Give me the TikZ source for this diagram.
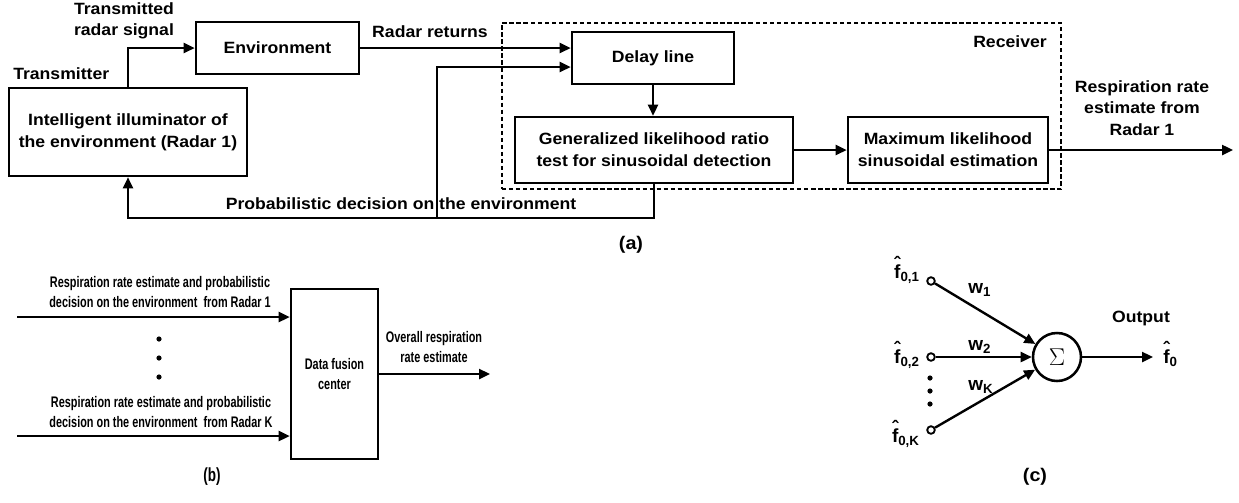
\documentclass[tikz,border=0pt]{standalone}
\usepackage{fontspec}
\setmainfont{Liberation Sans}
\newfontfamily\widesans[FakeStretch=1.08]{Liberation Sans}
\newfontfamily\narrowsans[FakeStretch=0.71]{Liberation Sans}
\usetikzlibrary{shapes,arrows,arrows.meta,positioning,calc,fit,backgrounds}
\newcommand{\fhat}{\ooalign{f\cr\hidewidth\raisebox{0.42em}{ˆ}\hidewidth\cr}}

\begin{document}
\begin{tikzpicture}[
    x=0.025cm, y=-0.025cm,
    box/.style={rectangle, draw, line width=1.8pt, align=center, inner sep=0pt, font=\widesans\bfseries\fontsize{11.6}{15.6}\selectfont},
    lbl/.style={align=center, inner sep=0pt, font=\widesans\bfseries\fontsize{11.6}{15}\selectfont},
    nlbl/.style={align=center, inner sep=0pt, font=\narrowsans\bfseries\fontsize{10.9}{14.2}\selectfont},
    sym/.style={inner sep=0pt, font=\bfseries\fontsize{13.5}{14}\selectfont},
    flow/.style={draw, line width=1.7pt, -{Triangle[length=0.275cm, width=0.25cm]}},
    port/.style={circle, draw, line width=1.3pt, inner sep=0pt, minimum size=0.19cm},
    dot/.style={circle, fill, inner sep=0pt, minimum size=0.13cm}
]
\useasboundingbox (0,0) rectangle (1239,502);

% (a) cognitive radar loop
\node[box, minimum width=5.95cm, minimum height=2.2cm] (illum) at (128,132) {Intelligent illuminator of\\the environment (Radar 1)};
\node[box, minimum width=4.075cm, minimum height=1.3cm] (env) at (277.5,48) {Environment};
\node[box, minimum width=4.05cm, minimum height=1.3cm] (delay) at (653,58) {Delay line};
\node[box, minimum width=6.95cm, minimum height=1.65cm] (glrt) at (654,150) {Generalized likelihood ratio\\test for sinusoidal detection};
\node[box, minimum width=5cm, minimum height=1.65cm] (mle) at (948,150) {Maximum likelihood\\sinusoidal estimation};
\node[draw, line width=1.6pt, dash pattern=on 3pt off 2pt, minimum width=13.975cm, minimum height=4.15cm] (rx) at (781.5,106) {};

\coordinate (fbjoin) at (437,217);
\coordinate (din) at ($(delay.west)+(0,9)$);
\coordinate (out1) at (1233,150);

\draw[flow] (illum.north) |- (env.west);
\draw[flow] (env.east) -- (env.east -| delay.west);
\draw[flow] (delay.south) -- (delay.south |- glrt.north);
\draw[flow] (glrt) -- (mle);
\draw[flow] (mle) -- (out1);
\draw[flow] (glrt.south) -- ++(0,34) -| (illum.south);
\draw[flow] (fbjoin) |- (din);

\node[lbl] (txsig) at (124,20.5) {Transmitted\\radar signal};
\node[lbl, anchor=west] (txlab) at (13,74) {Transmitter};
\node[lbl] (ret) at (430,32) {Radar returns};
\node[lbl, anchor=east] (rxlab) at (1047,42) {Receiver};
\node[lbl] (fblab) at (401,204) {Probabilistic decision on the environment};
\node[lbl, font=\widesans\bfseries\fontsize{11.6}{15.2}\selectfont] (estlab) at (1142,108) {Respiration rate\\estimate from\\Radar 1};
\node[lbl, font=\widesans\bfseries\fontsize{13}{14}\selectfont] (capa) at (631,245) {(a)};

% (b) data fusion
\node[draw, line width=1.8pt, minimum width=2.175cm, minimum height=4.25cm, align=center, nlbl] (fusion) at (334.5,374) {Data fusion\\center};
\coordinate (in1) at (17,317);
\coordinate (inK) at (17,436);
\coordinate (outb) at (490,374);
\draw[flow] (in1) -- (in1 -| fusion.west);
\draw[flow] (inK) -- (inK -| fusion.west);
\draw[flow] (fusion.east |- outb) -- (outb);

\node[nlbl] (r1lab) at (160,292) {Respiration rate estimate and probabilistic\\decision on the environment~ from Radar 1};
\node[nlbl] (rKlab) at (161,412) {Respiration rate estimate and probabilistic\\decision on the environment~ from Radar K};
\node[nlbl] (overall) at (434,347) {Overall respiration\\rate estimate};
\node[dot] (bd1) at (159,339) {};
\node[dot] (bd2) at (159,358) {};
\node[dot] (bd3) at (159,377) {};
\node[nlbl, font=\narrowsans\bfseries\fontsize{13.5}{14}\selectfont] (capb) at (212,477) {(b)};

% (c) weighted combiner
\node[circle, draw, line width=1.8pt, minimum size=1.2cm, inner sep=0pt, font=\fontsize{19}{19}\selectfont] (sum) at (1057,357) {$\Sigma$};
\node[port] (f1) at (931,281) {};
\node[port] (f2) at (931,357) {};
\node[port] (fK) at (931,430) {};
\coordinate (outc) at (1153,357);
\foreach \i in {1,2,K} {
    \draw[flow] (f\i) -- (sum);
}
\draw[flow] (sum) -- (outc);

\node[sym, anchor=base east] (f1lab) at (920,278) {\fhat\textsubscript{0,1}};
\node[sym, anchor=base east] (f2lab) at (920,363) {\fhat\textsubscript{0,2}};
\node[sym, anchor=base east] (fKlab) at (920,442) {\fhat\textsubscript{0,K}};
\node[sym, anchor=base west] (f0lab) at (1163,363) {\fhat\textsubscript{0}};
\node[sym, anchor=base west] (w1lab) at (968,293) {w\textsubscript{1}};
\node[sym, anchor=base west] (w2lab) at (968,350) {w\textsubscript{2}};
\node[sym, anchor=base west] (wKlab) at (968,390) {w\textsubscript{K}};
\node[lbl] (outlab) at (1141,318) {Output};
\node[dot] (cd1) at (930,378) {};
\node[dot] (cd2) at (930,391) {};
\node[dot] (cd3) at (930,404) {};
\node[lbl, font=\widesans\bfseries\fontsize{13}{14}\selectfont] (capc) at (1035,477) {(c)};

\end{tikzpicture}
\end{document}
